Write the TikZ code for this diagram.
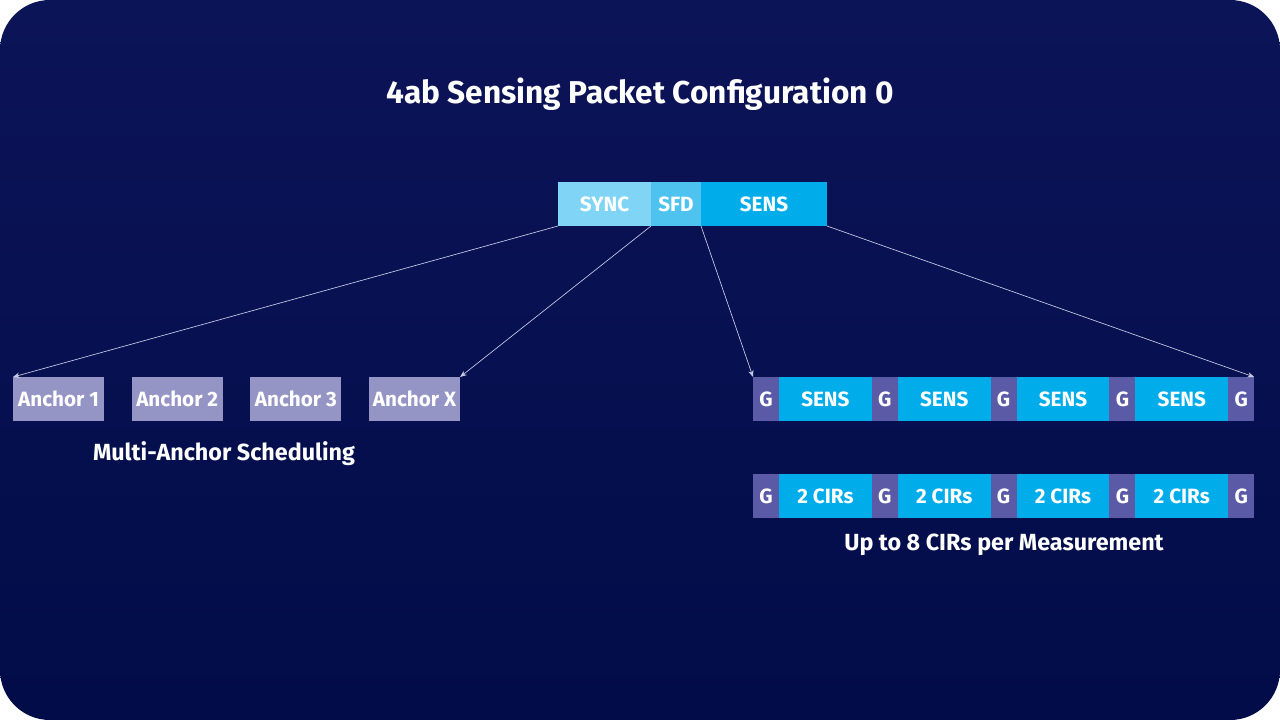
\documentclass[tikz,border=0pt]{standalone}
\usepackage{fontspec}
\setmainfont{Fira Sans}
\usepackage{xcolor}
\usepackage{tikz}
\usetikzlibrary{positioning,arrows.meta}

\definecolor{bgtop}{HTML}{0C1458}
\definecolor{bgbot}{HTML}{020C48}
\definecolor{synccol}{HTML}{80D4F6}
\definecolor{sfdcol}{HTML}{4FC3F0}
\definecolor{senscol}{HTML}{00ADEA}
\definecolor{guardcol}{HTML}{5A5AA6}
\definecolor{anchorcol}{HTML}{9595C5}
\definecolor{linkcol}{HTML}{C8CBE6}

\tikzset{
  seg/.style={minimum height=33pt, inner sep=0pt, outer sep=0pt, text=white,
    font=\bfseries\fontsize{15.5}{18}\selectfont},
  guard/.style={seg, fill=guardcol, minimum width=19.5pt},
  sensbox/.style={seg, fill=senscol, minimum width=69.6pt},
  anchorbox/.style={seg, fill=anchorcol, minimum width=68.3pt},
  caption/.style={text=white, font=\bfseries\fontsize{17.5}{21}\selectfont},
  link/.style={draw=linkcol, line width=0.5pt, -{Stealth[length=5pt,width=4pt]}}
}

\begin{document}
\begin{tikzpicture}[x=0.75pt,y=-0.75pt]
% background card
\fill[white] (0,0) rectangle (1280,720);
\shade[top color=bgtop, bottom color=bgbot, rounded corners=37.5pt] (0,0) rectangle (1280,720);

\node[text=white, font=\bfseries\fontsize{23.7}{28}\selectfont] (title) at (640,94) {4ab Sensing Packet Configuration 0};

% packet on top
\node[seg, fill=synccol, minimum width=69.75pt, anchor=north west] (sync) at (558,182) {SYNC};
\node[seg, fill=sfdcol, minimum width=37.5pt, right=0pt of sync] (sfd) {SFD};
\node[seg, fill=senscol, minimum width=94.5pt, right=0pt of sfd] (sens) {SENS};

% anchors
\foreach \t [count=\i] in {1,2,3,X} {
  \node[anchorbox, anchor=north west] (a\i) at ({13+118.67*(\i-1)},377) {Anchor \t};
}
\node[caption] (multi) at (224,454) {Multi-Anchor Scheduling};

% sensing segments and CIR segments
\node[guard, anchor=north west] (g1) at (753,377) {G};
\node[guard, anchor=north west] (cg1) at (753,474) {G};
\foreach \i [count=\j from 2] in {1,...,4} {
  \node[sensbox, right=0pt of g\i] (s\i) {SENS};
  \node[guard, right=0pt of s\i] (g\j) {G};
  \node[sensbox, right=0pt of cg\i] (cs\i) {2 CIRs};
  \node[guard, right=0pt of cs\i] (cg\j) {G};
}
\node[caption] (cirs) at (1004,545) {Up to 8 CIRs per Measurement};

% links
\draw[link] (sync.south west) -- (a1.north west);
\draw[link] (sfd.south west) -- (a4.north east);
\draw[link] (sens.south west) -- (g1.north west);
\draw[link] (sens.south east) -- (g5.north east);
\end{tikzpicture}
\end{document}
